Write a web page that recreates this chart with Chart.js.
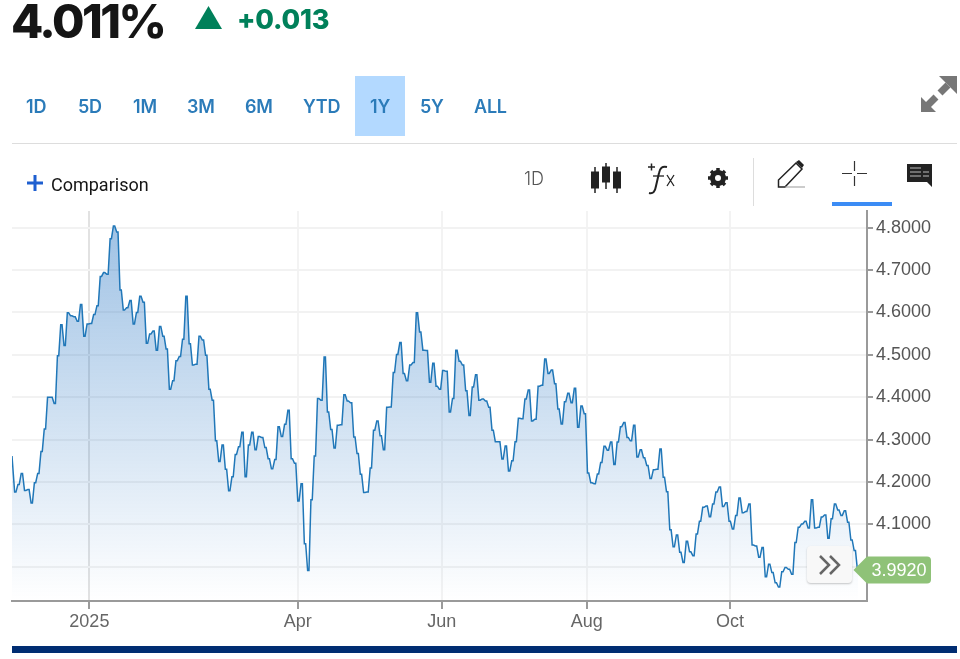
<!DOCTYPE html>
<html>
<head>
<meta charset="utf-8">
<title>4.011%</title>
<script src="https://cdn.jsdelivr.net/npm/chart.js@4/dist/chart.umd.min.js"></script>
<style>
  html, body { margin: 0; padding: 0; background: #fff; }
  #page { position: relative; width: 960px; height: 659px; overflow: hidden; font-family: Inter, sans-serif; }
  #page > * { position: absolute; }
  canvas { left: 0; top: 0; }
  .price { left: 11px; top: -7px; font-size: 47px; font-weight: 800; color: #151515; letter-spacing: -2.5px; line-height: 56px; }
  .change { left: 237px; top: 4px; font-size: 27px; font-weight: 800; color: #00805a; line-height: 32px; letter-spacing: -.2px; }
  .range { top: 95px; font-size: 18px; font-weight: 600; color: #2b7bb9; line-height: 24px; letter-spacing: -.2px; }
  .active { left: 355px; top: 76px; width: 50px; height: 60px; background: #b3d9ff; }
  .rule { left: 12px; top: 143px; width: 945px; height: 1px; background: #ddd; }
  .compare { left: 51px; top: 174px; font: 18px/22px Roboto, sans-serif; color: #151515; }
  .interval { left: 524px; top: 168px; font-size: 18px; font-weight: 300; line-height: 22px; color: #555; }
  .sep { left: 753px; top: 158px; width: 1px; height: 48px; background: #ddd; }
  .underline { left: 832px; top: 202px; width: 60px; height: 4px; background: #3b8cf5; }
  .bottom { left: 12px; top: 646px; width: 945px; height: 7px; background: #002d72; }
  .jump { left: 807px; top: 546px; width: 45px; height: 37px; background: #f8f8f8; border-radius: 4px; box-shadow: 0 1px 2px rgba(0,0,0,.22); }
</style>
</head>
<body>
<div id="page">
  <canvas id="chart" width="960" height="659"></canvas>

  <div class="price">4.011%</div>
  <svg style="left:195px;top:6px" width="27" height="23"><path d="M13.5 0 27 23H0z" fill="#00805a"/></svg>
  <div class="change">+0.013</div>

  <div class="active"></div>
  <div id="ranges"></div>
  <svg style="left:920px;top:75px" width="38" height="38" fill="#777" stroke="none">
    <path d="M37 1v18l-18-18z"/>
    <path d="M1 37V22l15 15z"/>
    <path d="M28 10 20 18M16 22 8 30" stroke="#777" stroke-width="7" fill="none"/>
  </svg>
  <div class="rule"></div>

  <svg style="left:27px;top:175px" width="16" height="16" fill="#1e5fd0"><path d="M6.500 0h3v6.500H16v3H9.500V16h-3V9.500H0v-3h6.500z"/></svg>
  <div class="compare">Comparison</div>
  <div class="interval">1D</div>

  <svg style="left:590px;top:162px" width="32" height="32" fill="#222" stroke="#222">
    <path d="M5 5v26M16 1v26M27 5v26" stroke-width="1.500" fill="none"/>
    <rect x="1.500" y="10" width="7" height="16"/><rect x="12.500" y="5" width="7" height="15"/><rect x="23.500" y="10" width="7" height="16"/>
  </svg>
  <svg style="left:646px;top:162px" width="32" height="34" fill="none" stroke="#222">
    <path d="M2 5h7M5.500 1.500v7" stroke-width="1.500"/>
    <path d="M3 31c4 1 6-1 7-7l3-13c1-5 3-7 8-6" stroke-width="2"/>
    <path d="M7 14h11" stroke-width="1.300"/>
    <path d="M21 13l7 11M28 13l-7 11" stroke-width="1.300"/>
  </svg>
  <svg style="left:707px;top:167px" width="22" height="22" viewBox="0 0 22 22">
    <circle cx="11" cy="11" r="5.500" fill="none" stroke="#222" stroke-width="5"/>
    <path d="M11 1v20M1 11h20M4 4l14 14M18 4 4 18" stroke="#222" stroke-width="3.500" stroke-dasharray="3.500 13 3.500"/>
  </svg>
  <div class="sep"></div>
  <svg style="left:777px;top:160px" width="28" height="30">
    <path d="M1.500 27v-7L19 3l6 6L8 27z" fill="none" stroke="#222" stroke-width="1.500"/>
    <path d="M19 2l3-2 5 5-2 3z" fill="#222"/>
    <path d="M8 27h20" stroke="#999"/>
  </svg>
  <svg style="left:842px;top:161px" width="25" height="25" stroke="#333" stroke-width="1.200">
    <path d="M12.500 0v10M12.500 15v10M0 12.500h10M15 12.500h10"/>
  </svg>
  <div class="underline"></div>
  <svg style="left:907px;top:164px" width="26" height="24">
    <path d="M0 0h25v23l-5-5H0z" fill="#222"/>
    <path d="M3 4h11M3 8h11M3 12h11M16 8h6M16 12h6" stroke="#bbb" stroke-width="1.200"/>
  </svg>

  <div class="jump">
    <svg style="position:absolute;left:12px;top:9px" width="24" height="20" fill="none" stroke="#666" stroke-width="2.500">
      <path d="M1 1l9 9-9 9M11 1l9 9-9 9"/>
    </svg>
  </div>
  <div class="bottom"></div>
</div>

<script>
const rangeLabels = ['1D', '5D', '1M', '3M', '6M', 'YTD', '1Y', '5Y', 'ALL'];
const rangeLefts  = [26, 78, 133, 187, 245, 303, 370, 420, 474];

const yieldValues = [
  4.261, 4.176, 4.194, 4.22, 4.18, 4.182, 4.15, 4.198, 4.22, 4.272,
  4.325, 4.40, 4.40, 4.385, 4.498, 4.571, 4.522, 4.599, 4.592, 4.59,
  4.579, 4.619, 4.544, 4.573, 4.574, 4.595, 4.616, 4.685, 4.694, 4.69,
  4.774, 4.804, 4.79, 4.653, 4.606, 4.611, 4.628, 4.573, 4.60, 4.638,
  4.624, 4.527, 4.549, 4.556, 4.511, 4.567, 4.544, 4.514, 4.419, 4.439,
  4.486, 4.496, 4.537, 4.638, 4.526, 4.476, 4.478, 4.544, 4.535, 4.499,
  4.419, 4.393, 4.297, 4.248, 4.287, 4.23, 4.179, 4.212, 4.265, 4.283,
  4.317, 4.212, 4.287, 4.317, 4.276, 4.307, 4.305, 4.281, 4.255, 4.231,
  4.253, 4.33, 4.307, 4.336, 4.369, 4.255, 4.244, 4.155,
  4.196, 4.054, 3.991, 4.158, 4.261, 4.397, 4.393, 4.495, 4.365, 4.324,
  4.28, 4.334, 4.335, 4.406, 4.391, 4.387, 4.306, 4.267, 4.218, 4.175,
  4.176, 4.233, 4.322, 4.344, 4.309, 4.276, 4.376, 4.377, 4.458, 4.501,
  4.529, 4.456, 4.439, 4.476, 4.482, 4.599, 4.554, 4.511, 4.51, 4.435,
  4.48, 4.426, 4.419, 4.463, 4.461, 4.365, 4.397, 4.511, 4.485, 4.476,
  4.415, 4.357, 4.424, 4.453, 4.393, 4.396, 4.391, 4.376, 4.322, 4.295,
  4.295, 4.254, 4.285, 4.226, 4.25, 4.295, 4.35, 4.349, 4.396, 4.417,
  4.344, 4.348, 4.426, 4.428, 4.49, 4.456, 4.464, 4.432, 4.372, 4.337,
  4.389, 4.409, 4.387, 4.421, 4.329, 4.379, 4.361, 4.221,
  4.198, 4.196, 4.219, 4.246, 4.284, 4.275, 4.294, 4.241, 4.294, 4.33,
  4.34, 4.305, 4.297, 4.334, 4.259, 4.276, 4.257, 4.239, 4.208, 4.229,
  4.23, 4.278, 4.211, 4.177, 4.087, 4.047, 4.075, 4.034, 4.01, 4.06,
  4.035, 4.026, 4.077, 4.107, 4.14, 4.143, 4.118, 4.148, 4.176, 4.188,
  4.142, 4.151, 4.107, 4.089, 4.121, 4.162, 4.127, 4.13, 4.148, 4.051,
  4.049, 4.022, 4.045, 3.976, 4.006, 3.986, 3.962, 3.952, 3.988, 3.998,
  3.994, 3.982, 4.057, 4.093, 4.101, 4.107, 4.091, 4.158, 4.091, 4.093,
  4.117, 4.122, 4.067, 4.113, 4.148, 4.134, 4.121, 4.132, 4.105, 4.063,
  4.038, 3.992,
];

// session index of each month label
const xTickIndexes = [23.5, 86.8, 130.5, 174.6, 218.1];
const xTickLabels  = ['2025', 'Apr', 'Jun', 'Aug', 'Oct'];
const yTickValues  = [4.0, 4.1, 4.2, 4.3, 4.4, 4.5, 4.6, 4.7, 4.8];

const X_MAX = 259.7;
const Y_MIN = 3.919;
const Y_MAX = 4.8394;

rangeLabels.forEach((label, i) => {
  const el = document.createElement('div');
  el.className = 'range';
  el.style.left = rangeLefts[i] + 'px';
  el.textContent = label;
  document.getElementById('page').appendChild(el);
});

// each session is held flat for a moment, the feed draws it like that
const points = yieldValues.flatMap((v, i) => [
  { x: Math.max(i - 0.2, 0), y: v },
  { x: Math.min(i + 0.2, yieldValues.length - 1), y: v },
]);

const lastValueTag = {
  id: 'lastValueTag',
  afterDraw(chart) {
    const { ctx, scales } = chart;
    const last = yieldValues[yieldValues.length - 1];
    const y = scales.y.getPixelForValue(last);
    ctx.save();
    ctx.fillStyle = '#8fc278';
    ctx.beginPath();
    ctx.moveTo(853.5, y);
    ctx.lineTo(867, y - 13.5);
    ctx.lineTo(927, y - 13.5);
    ctx.arcTo(931, y - 13.5, 931, y - 9.5, 4);
    ctx.lineTo(931, y + 9.5);
    ctx.arcTo(931, y + 13.5, 927, y + 13.5, 4);
    ctx.lineTo(867, y + 13.5);
    ctx.closePath();
    ctx.fill();
    ctx.fillStyle = '#fff';
    ctx.font = '18px "Liberation Sans", sans-serif';
    ctx.textAlign = 'left';
    ctx.textBaseline = 'middle';
    ctx.fillText(last.toFixed(4), 871.500, y + 0.5);
    ctx.restore();
  },
};

const canvas = document.getElementById('chart');
const fillGradient = canvas.getContext('2d').createLinearGradient(0, 211, 0, 601);
fillGradient.addColorStop(0, 'rgba(20, 105, 190, 0.42)');
fillGradient.addColorStop(1, 'rgba(20, 105, 190, 0)');

new Chart(canvas, {
  type: 'line',
  data: {
    datasets: [{
      data: points,
      borderColor: '#2077b8',
      borderWidth: 1.5,
      backgroundColor: fillGradient,
      fill: 'start',
      pointRadius: 0,
      tension: 0,
    }],
  },
  options: {
    responsive: false,
    animation: false,
    layout: { padding: { left: 12, top: 211, right: 0, bottom: 18 } },
    plugins: { legend: { display: false }, tooltip: { enabled: false } },
    scales: {
      x: {
        type: 'linear',
        min: 0,
        max: X_MAX,
        afterFit: s => { s.height = 40; },
        afterBuildTicks: s => { s.ticks = xTickIndexes.map(value => ({ value })); },
        border: { color: '#9a9a9a', width: 2 },
        grid: {
          color: ctx => (ctx.index === 0 ? '#e2e2e2' : '#f3f3f3'),
          lineWidth: 2,
          tickLength: 8,
          tickColor: '#9a9a9a',
        },
        ticks: {
          autoSkip: false,
          maxRotation: 0,
          padding: 2,
          color: '#666',
          font: { family: '"Liberation Sans"', size: 18 },
          callback: (v, i) => xTickLabels[i],
        },
      },
      y: {
        position: 'right',
        min: Y_MIN,
        max: Y_MAX,
        afterFit: s => { s.width = 93; },
        afterBuildTicks: s => { s.ticks = yTickValues.map(value => ({ value })); },
        border: { color: '#9a9a9a', width: 2 },
        grid: {
          color: '#f2f2f2',
          lineWidth: 2,
          tickLength: 6,
          tickColor: '#9a9a9a',
        },
        ticks: {
          padding: 3,
          color: '#555',
          font: { family: '"Liberation Sans"', size: 18 },
          callback: v => v.toFixed(4),
        },
      },
    },
  },
  plugins: [lastValueTag],
});
</script>
</body>
</html>
